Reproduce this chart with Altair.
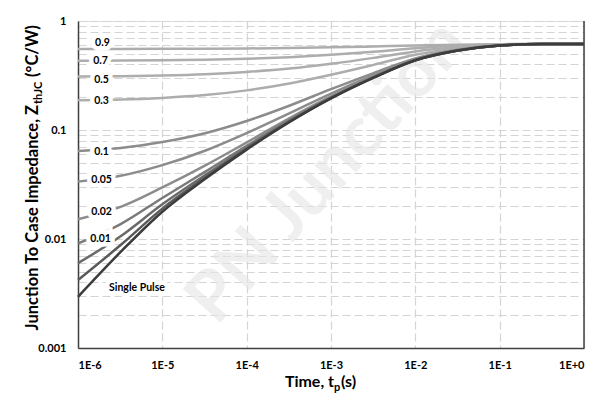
import altair as alt
import pandas as pd

# ---- data ----
t_vals = [1e-6, 3.2e-6, 1e-5, 3.2e-5, 1e-4, 3.2e-4, 1e-3, 3.2e-3, 1e-2, 3.2e-2, 1e-1, 3.2e-1, 1.0]

series_names = ["0.9", "0.7", "0.5", "0.3", "0.1", "0.05", "0.02", "0.01", "0.005", "0.002", "Single Pulse"]
z_09 = [0.554, 0.554, 0.555, 0.557, 0.560, 0.565, 0.573, 0.584, 0.597, 0.607, 0.613, 0.615, 0.615]
z_07 = [0.431, 0.433, 0.436, 0.441, 0.450, 0.466, 0.489, 0.521, 0.562, 0.592, 0.609, 0.615, 0.615]
z_05 = [0.309, 0.311, 0.316, 0.325, 0.341, 0.366, 0.405, 0.459, 0.526, 0.576, 0.605, 0.614, 0.615]
z_03 = [0.187, 0.190, 0.197, 0.209, 0.231, 0.267, 0.321, 0.396, 0.490, 0.560, 0.602, 0.614, 0.615]
z_01 = [0.0642, 0.0683, 0.0775, 0.0934, 0.121, 0.167, 0.237, 0.333, 0.454, 0.545, 0.598, 0.614, 0.615]
z_005 = [0.0336, 0.0380, 0.0476, 0.0645, 0.0935, 0.142, 0.216, 0.318, 0.445, 0.541, 0.597, 0.614, 0.615]
z_002 = [0.0152, 0.0197, 0.0297, 0.0471, 0.0770, 0.128, 0.203, 0.308, 0.440, 0.539, 0.596, 0.614, 0.615]
z_001 = [0.0091, 0.0137, 0.0238, 0.0413, 0.0716, 0.123, 0.199, 0.305, 0.438, 0.538, 0.596, 0.614, 0.615]
z_0005 = [0.0060, 0.0106, 0.0208, 0.0384, 0.0688, 0.120, 0.197, 0.304, 0.437, 0.537, 0.596, 0.614, 0.615]
z_0002 = [0.0042, 0.0088, 0.0190, 0.0366, 0.0672, 0.119, 0.196, 0.303, 0.437, 0.537, 0.596, 0.614, 0.615]
z_single = [0.00295, 0.0076, 0.0178, 0.0355, 0.0661, 0.118, 0.195, 0.302, 0.437, 0.537, 0.596, 0.614, 0.615]
series_values = [z_09, z_07, z_05, z_03, z_01, z_005, z_002, z_001, z_0005, z_0002, z_single]
series_colors = ["#adadad", "#adadad", "#adadad", "#adadad", "#8c8c8c", "#8c8c8c", "#8c8c8c",
                 "#7a7a7a", "#6a6a6a", "#5a5a5a", "#3c3c3c"]

# curve labels (position)
label_text = ["0.9", "0.7", "0.5", "0.3", "0.1", "0.05", "0.02", "0.01", "Single Pulse"]
label_t = [1.95e-6, 1.85e-6, 1.9e-6, 1.9e-6, 1.9e-6, 1.9e-6, 1.9e-6, 1.85e-6, 5.0e-6]
label_z = [0.624, 0.432, 0.288, 0.186, 0.0632, 0.0348, 0.0178, 0.0100, 0.00355]

x_ticks = [1e-6, 1e-5, 1e-4, 1e-3, 1e-2, 1e-1, 1.0]
y_ticks = [0.001, 0.002, 0.003, 0.004, 0.005, 0.006, 0.007, 0.008, 0.009,
           0.01, 0.02, 0.03, 0.04, 0.05, 0.06, 0.07, 0.08, 0.09,
           0.1, 0.2, 0.3, 0.4, 0.5, 0.6, 0.7, 0.8, 0.9, 1.0]

watermark_text = "PN Junction"

# ---- build tables ----
rows = []
for i, (name, vals) in enumerate(zip(series_names, series_values)):
    for t, z in zip(t_vals, vals):
        rows.append({"t": t, "z": z, "series": name, "k": i})
df = pd.DataFrame(rows)
lab = pd.DataFrame({"t": label_t, "z": label_z, "text": label_text})

FONT = "Lato"
W, H = 506, 327

xscale = alt.Scale(type="log", domain=[1e-6, 1.0])
yscale = alt.Scale(type="log", domain=[0.001, 1.0])

grid_style = dict(grid=True, gridDash=[8, 4], gridColor="#d4d4d4", gridWidth=1.2,
                  ticks=False, domainColor="#404040", domainWidth=1.5,
                  labelFont=FONT, labelFontWeight="bold", labelFontSize=11,
                  labelColor="#000000", labelOverlap=False, title=None)

x_axis = alt.Axis(values=x_ticks, labelPadding=11,
                  labelExpr="'1E' + (round(log(datum.value)/LN10) >= 0 ? '+' : '') + round(log(datum.value)/LN10)",
                  **grid_style)
y_axis = alt.Axis(values=y_ticks, labelPadding=12,
                  labelExpr="abs(log(datum.value)/LN10 - round(log(datum.value)/LN10)) < 1e-6 ? format(datum.value, '~g') : ''",
                  **grid_style)

one = pd.DataFrame({"a": [0]})

watermark = alt.Chart(one).mark_text(text=watermark_text, font=FONT, fontWeight="bold", fontSize=70,
                                     angle=312, align="center", baseline="middle",
                                     color="#e6e6e6", opacity=0.6).encode(
    x=alt.value(250), y=alt.value(151))

lines = alt.Chart(df).mark_line(strokeWidth=2.5, interpolate="monotone").encode(
    x=alt.X("t:Q", scale=xscale, axis=x_axis),
    y=alt.Y("z:Q", scale=yscale, axis=y_axis),
    color=alt.Color("series:N", scale=alt.Scale(domain=series_names, range=series_colors), legend=None),
    order=alt.Order("k:Q"),
)

right_border = alt.Chart(one).mark_rule(color="#404040", strokeWidth=1.5).encode(
    x=alt.datum(1.0), y=alt.datum(0.001), y2=alt.datum(1.0)
)

halo = alt.Chart(lab).mark_text(font=FONT, fontWeight="bold", fontSize=10.5, stroke="white",
                                strokeWidth=9, fill="white", baseline="middle").encode(
    x=alt.X("t:Q", scale=xscale), y=alt.Y("z:Q", scale=yscale), text="text:N")
labels = alt.Chart(lab).mark_text(font=FONT, fontWeight="bold", fontSize=10.5, color="#000000",
                                  baseline="middle").encode(
    x=alt.X("t:Q", scale=xscale), y=alt.Y("z:Q", scale=yscale), text="text:N")

def txt(s, x, y, size=15, angle=0, align="left"):
    return alt.Chart(one).mark_text(text=s, font=FONT, fontWeight="bold", fontSize=size,
                                    angle=angle, align=align, baseline="alphabetic",
                                    color="#000000").encode(x=alt.value(x), y=alt.value(y))

# x title: Time, t_p(s)
xt1 = txt("Time, t", 256, 366, size=16, align="right")
xt2 = txt("p", 256, 370, size=11)
xt3 = txt("(s)", 263, 366, size=16)
# y title: Junction To Case Impedance, Z_thJC (°C/W)
yt1 = txt("Junction To Case Impedance, Z", -40, 84, size=16.5, angle=270, align="right")
yt2 = txt("thJC", -36, 83, size=11, angle=270)
yt3 = txt("(°C/W)", -40, 56, size=16.5, angle=270)

chart = alt.layer(watermark, lines, right_border, halo, labels, xt1, xt2, xt3, yt1, yt2, yt3).properties(
    width=W, height=H,
    padding={"left": 70, "top": 13, "right": 10, "bottom": 48},
    autosize=alt.AutoSizeParams(type="none"),
).configure_view(stroke=None).configure(background="white")

chart.save("out.html", embed_options={"renderer": "svg", "actions": False})
